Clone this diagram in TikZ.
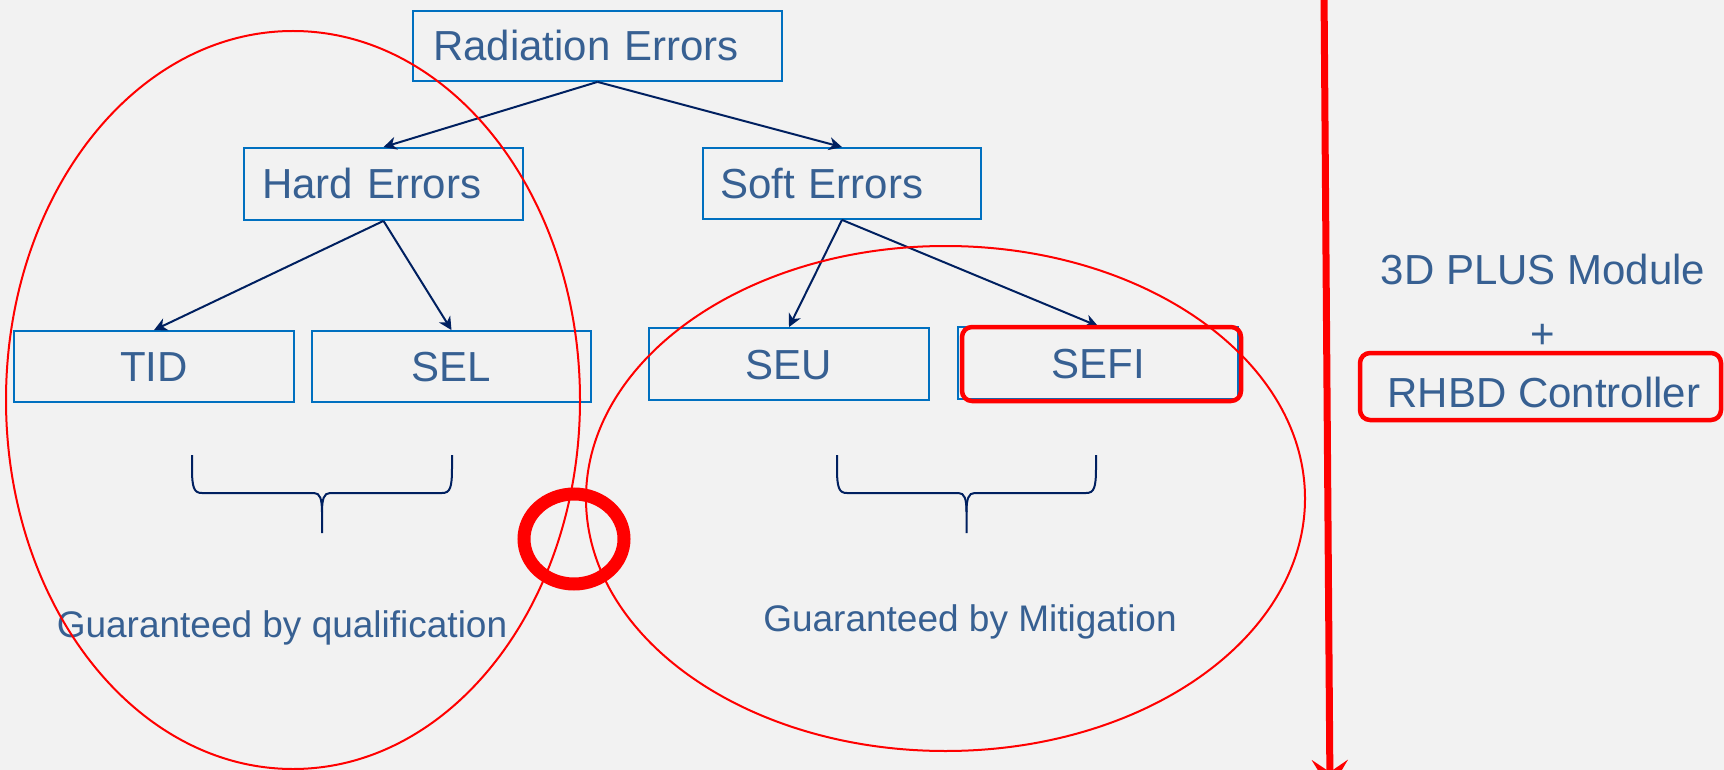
\documentclass[tikz,border=0pt]{standalone}
\usepackage{fontspec}
\setmainfont{Liberation Sans}
\usetikzlibrary{arrows.meta}

\definecolor{bgcol}{HTML}{F2F2F2}
\definecolor{boxblue}{HTML}{0070C0}
\definecolor{txtblue}{HTML}{376092}
\definecolor{navy}{HTML}{002060}
\definecolor{hotred}{HTML}{FF0000}

% upward-opening curly brace: left x, middle x, right x
\newcommand{\bracedown}[3]{%
  \draw[bracestyle] (#1,455) -- (#1,468) .. controls (#1,488) and (#1+2,493) .. (#1+10,493)
    -- (#2-8,493) .. controls (#2-2,493) and (#2,499) .. (#2,512) -- (#2,533);
  \draw[bracestyle] (#3,455) -- (#3,468) .. controls (#3,488) and (#3-2,493) .. (#3-10,493)
    -- (#2+8,493) .. controls (#2+2,493) and (#2,499) .. (#2,512);
}

\begin{document}
\begin{tikzpicture}[x=1pt,y=-1pt,
  big/.style={font=\fontsize{42}{50}\selectfont, text=txtblue},
  small/.style={font=\fontsize{37}{44}\selectfont, text=txtblue},
  box/.style={big, draw=boxblue, line width=1.8pt, inner ysep=0pt,
    text height=30pt, text depth=0pt},
  cbox/.style={box, inner xsep=0pt},
  arr/.style={draw=navy, line width=2pt, -{Stealth[length=13pt,width=13pt,inset=4pt]}},
  bracestyle/.style={draw=navy, line width=2pt},
  ring/.style={draw=hotred, line width=2pt},
  redframe/.style={draw=hotred, line width=4.5pt, rounded corners=10pt, inner sep=0pt},
]
\useasboundingbox (0,0) rectangle (1724,770);
\fill[bgcol] (0,0) rectangle (1724,770);
\clip (0,0) rectangle (1724,770);

% tree of error classes
\node[box, text width=329pt, inner xsep=20pt, align=left, minimum height=70pt]
  (rad) at (597.5,46) {Radiation Errors};
\node[box, text width=243pt, inner xsep=18pt, align=left, minimum height=72pt]
  (hard) at (383.5,184) {Hard Errors};
\node[box, text width=244pt, inner xsep=17pt, align=left, minimum height=71pt]
  (soft) at (842,183.5) {Soft Errors};
\node[cbox, minimum width=280pt, minimum height=71pt] (tid) at (154,366.5) {TID};
\node[cbox, minimum width=279pt, minimum height=71pt] (sel) at (451.5,366.5) {SEL};
\node[cbox, minimum width=280pt, minimum height=72pt] (seu) at (789,364) {SEU};
\node[cbox, minimum width=280pt, minimum height=72pt] (sefi) at (1098,363) {SEFI};

\draw[arr] (rad.south) -- (hard.north);
\draw[arr] (rad.south) -- (soft.north);
\draw[arr] (hard.south) -- (tid.north);
\draw[arr] (hard.south) -- (sel.north);
\draw[arr] (soft.south) -- (seu.north);
\draw[arr] (soft.south) -- (sefi.north);

% braces grouping the leaves
\bracedown{192}{322}{452}
\bracedown{837}{966.5}{1096}

% group captions
\node[small, anchor=base] (qual) at (282,637) {Guaranteed by qualification};
\node[small, anchor=base] (miti) at (970,631) {Guaranteed by Mitigation};

% grouping ellipses
\draw[ring] (293,400) ellipse [x radius=287pt, y radius=369pt];
\draw[ring] (945.5,498.5) ellipse [x radius=359.5pt, y radius=252.5pt];
\draw[draw=hotred, line width=13pt] (574,539) ellipse [x radius=50pt, y radius=45pt];

% highlight on SEFI
\node[redframe, minimum width=279pt, minimum height=74pt] (sefiframe) at (1101.5,364) {};

% divider arrow
\coordinate (vtop) at (1324,-10);
\coordinate (vbot) at (1330,790);
\draw[draw=hotred, line width=7pt, -{Stealth[length=30pt,width=36pt,inset=12pt]}] (vtop) -- (vbot);

% module side
\node[big, anchor=base] (module) at (1543,284) {3D PLUS Module};
\node[big, anchor=base] (plus) at (1543,348) {+};
\node[big, anchor=base] (rhbd) at (1544,407) {RHBD Controller};
\node[redframe, minimum width=361pt, minimum height=67pt] (rhbdframe) at (1540.5,386.5) {};
\end{tikzpicture}
\end{document}
